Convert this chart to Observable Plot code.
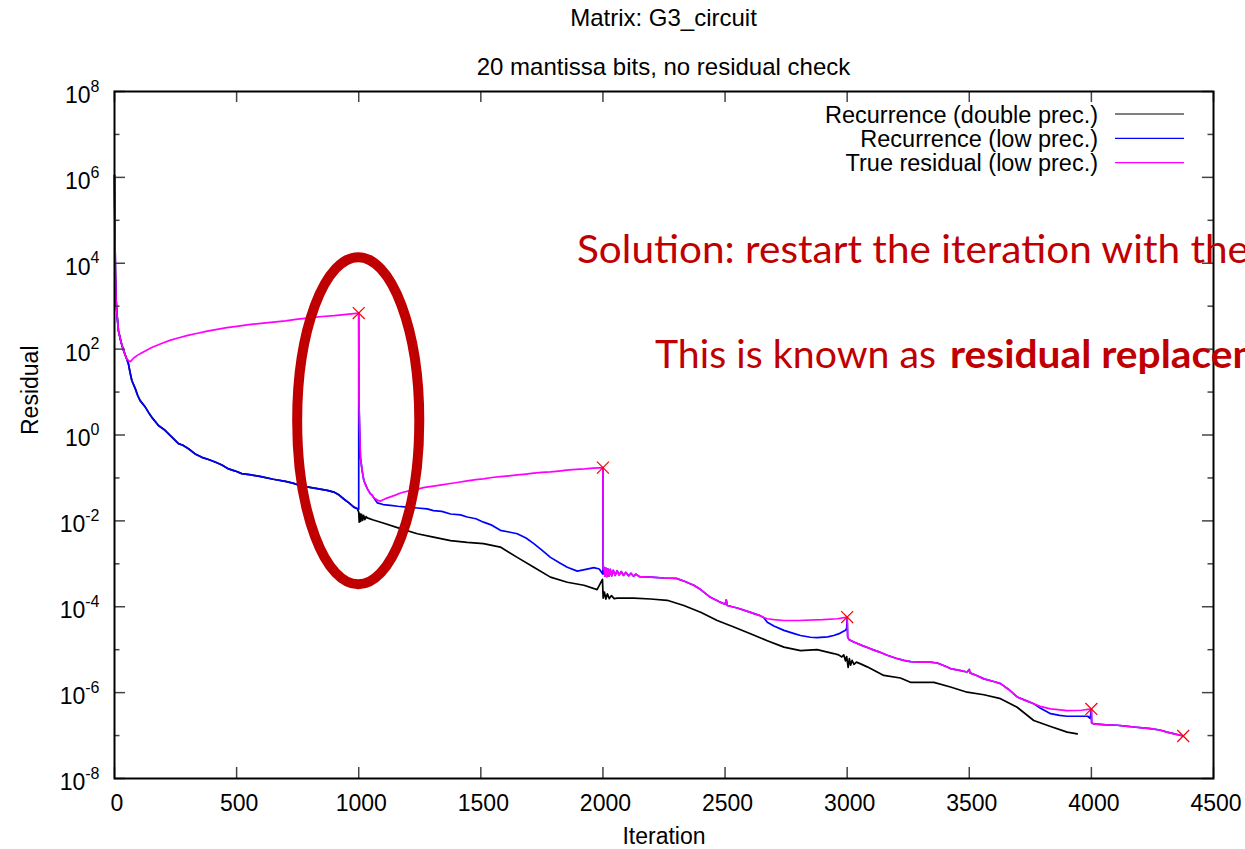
<!DOCTYPE html>
<html>
<head>
<meta charset="utf-8">
<script src="https://cdn.jsdelivr.net/npm/d3@7"></script>
<script src="https://cdn.jsdelivr.net/npm/@observablehq/plot@0.6"></script>
<style>
  html, body { margin: 0; padding: 0; background: #fff; overflow: hidden; width: 1245px; height: 849px; }
  #head { position: relative; width: 1245px; height: 80px; font-family: "Liberation Sans", Arial, sans-serif; color: #000; }
  #head div { position: absolute; left: 114px; width: 1099px; text-align: center; font-size: 24px; line-height: 1; }
  #chart svg { display: block; }
</style>
</head>
<body>
<div id="head">
  <div style="top: 6px;">Matrix: G3_circuit</div>
  <div style="top: 55px;">20 mantissa bits, no residual check</div>
</div>
<div id="chart"></div>
<script>
// Axis ticks
const xTicks = [0, 500, 1000, 1500, 2000, 2500, 3000, 3500, 4000, 4500];
const yMajorExp = [-8, -6, -4, -2, 0, 2, 4, 6, 8];
const yMinorExp = [-7, -5, -3, -1, 1, 3, 5, 7];

const seriesNames = ["Recurrence (double prec.)", "Recurrence (low prec.)", "True residual (low prec.)"];
const seriesColors = ["#000000", "#0000ff", "#ff00ff"];

// Residual histories as [iteration, log10(residual)]
// First restart cycle: both recurrences agree up to iteration 1000
const firstCycle = [[0,6.05],[1,5.3],[2,4.6],[4,3.7],[6,3.2],[10,2.83],[16,2.43],[27,2.16],[37,1.97],[50,1.77],[57,1.66],[64,1.45],[71,1.27],[85,1.08],[95,0.92],[105,0.80],[126,0.65],[140,0.52],[153,0.41],[180,0.22],[207,0.11],[235,-0.05],[262,-0.20],[280,-0.24],[303,-0.32],[330,-0.44],[358,-0.52],[385,-0.57],[412,-0.63],[440,-0.70],[467,-0.79],[495,-0.84],[521,-0.90],[560,-0.93],[600,-0.97],[650,-1.03],[700,-1.08],[730,-1.12],[762,-1.18],[800,-1.22],[830,-1.25],[871,-1.29],[898,-1.33],[920,-1.40],[939,-1.49],[960,-1.58],[980,-1.68],[995,-1.72]];

const doubleTail = [[1000,-1.80],[1002,-2.03],[1005,-1.83],[1008,-2.01],[1012,-1.85],[1016,-1.99],[1020,-1.87],[1025,-1.97],[1030,-1.90],[1035,-1.93],[1060,-1.98],[1100,-2.05],[1171,-2.18],[1240,-2.30],[1306,-2.38],[1376,-2.46],[1444,-2.50],[1511,-2.53],[1580,-2.61],[1649,-2.85],[1717,-3.08],[1785,-3.31],[1854,-3.43],[1922,-3.50],[1976,-3.60],[1998,-3.36],[2001,-3.80],[2006,-3.66],[2012,-3.82],[2018,-3.70],[2026,-3.81],[2035,-3.74],[2046,-3.81],[2058,-3.80],[2126,-3.80],[2195,-3.82],[2263,-3.85],[2331,-3.97],[2400,-4.13],[2468,-4.32],[2536,-4.47],[2604,-4.63],[2673,-4.79],[2741,-4.94],[2809,-5.02],[2877,-5.00],[2945,-5.09],[2965,-5.12],[2978,-5.17],[2986,-5.12],[2993,-5.26],[2998,-5.16],[3004,-5.41],[3009,-5.21],[3014,-5.36],[3020,-5.25],[3028,-5.34],[3038,-5.29],[3055,-5.33],[3082,-5.40],[3150,-5.60],[3218,-5.66],[3259,-5.76],[3355,-5.76],[3423,-5.87],[3491,-5.99],[3560,-6.05],[3628,-6.14],[3696,-6.34],[3764,-6.65],[3833,-6.79],[3901,-6.92],[3942,-6.96]];

// True residual until the first check at iteration 1000
const trueCycle1 = [[0,6.05],[1,5.3],[2,4.6],[4,3.7],[6,3.2],[10,2.83],[16,2.43],[27,2.16],[37,1.97],[50,1.77],[60,1.72],[65,1.71],[80,1.80],[95,1.86],[110,1.91],[130,1.97],[150,2.03],[175,2.09],[200,2.15],[230,2.21],[260,2.26],[300,2.32],[340,2.37],[380,2.42],[420,2.46],[460,2.50],[500,2.53],[550,2.57],[600,2.60],[650,2.63],[700,2.66],[750,2.70],[800,2.73],[850,2.76],[900,2.78],[950,2.81],[1000,2.84]];

// Shared by low-precision recurrence and true residual after each restart
const restart1000 = [[1001,0.80],[1003,0.30],[1005,-0.13],[1007,-0.52],[1014,-0.83],[1021,-1.06],[1035,-1.25],[1048,-1.37],[1055,-1.40],[1062,-1.47]];
const restart2000 = [[2001,-3.12],[2004,-3.08],[2008,-3.29],[2012,-3.10],[2016,-3.30],[2020,-3.12],[2025,-3.29],[2030,-3.13],[2036,-3.28],[2042,-3.15],[2050,-3.27],[2058,-3.16],[2066,-3.26],[2075,-3.18],[2084,-3.27],[2094,-3.20],[2105,-3.28],[2115,-3.22],[2125,-3.29],[2135,-3.24],[2150,-3.30],[2195,-3.31],[2250,-3.33],[2300,-3.34],[2331,-3.40],[2372,-3.50],[2400,-3.60],[2440,-3.78],[2475,-3.88],[2500,-3.94],[2505,-3.84],[2509,-3.97],[2550,-4.03],[2604,-4.13],[2640,-4.20],[2658,-4.25]];
const restart3000 = [[3002,-4.70],[3007,-4.76],[3027,-4.82],[3060,-4.90],[3096,-4.98],[3130,-5.05],[3164,-5.13],[3200,-5.20],[3232,-5.25],[3260,-5.28],[3300,-5.29],[3340,-5.29],[3369,-5.31],[3400,-5.38],[3423,-5.44],[3460,-5.48],[3491,-5.52],[3500,-5.46],[3503,-5.54],[3530,-5.60],[3560,-5.68],[3600,-5.74],[3628,-5.79],[3660,-5.92],[3696,-6.10],[3730,-6.18],[3764,-6.26]];
const restart4000 = [[4001,-6.70],[4010,-6.73],[4060,-6.75],[4106,-6.76],[4140,-6.78],[4174,-6.80],[4210,-6.82],[4242,-6.84],[4280,-6.87],[4310,-6.92],[4340,-6.96],[4376,-7.01]];

// Low-precision recurrence between restarts
const lowDrift1 = [[1076,-1.58],[1100,-1.62],[1130,-1.64],[1160,-1.66],[1198,-1.68],[1240,-1.70],[1280,-1.72],[1306,-1.76],[1340,-1.78],[1376,-1.84],[1417,-1.86],[1444,-1.91],[1480,-1.95],[1511,-2.03],[1545,-2.10],[1580,-2.22],[1615,-2.26],[1649,-2.30],[1685,-2.40],[1717,-2.53],[1750,-2.68],[1785,-2.85],[1820,-2.97],[1854,-3.08],[1895,-3.17],[1930,-3.13],[1963,-3.09],[1985,-3.12],[1997,-3.22],[2000,-3.24]];
const lowDrift2 = [[2673,-4.36],[2700,-4.45],[2741,-4.55],[2780,-4.62],[2809,-4.67],[2850,-4.71],[2877,-4.72],[2920,-4.70],[2945,-4.67],[2970,-4.62],[2993,-4.55],[2998,-4.50]];
const lowDrift3 = [[3790,-6.36],[3833,-6.49],[3870,-6.53],[3901,-6.55],[3950,-6.55],[3985,-6.55],[3995,-6.60]];

// True residual between restarts
const trueDrift1 = [[1070,-1.49],[1080,-1.53],[1089,-1.54],[1100,-1.51],[1115,-1.47],[1130,-1.44],[1150,-1.40],[1171,-1.35],[1205,-1.30],[1240,-1.26],[1270,-1.22],[1306,-1.19],[1340,-1.16],[1375,-1.13],[1410,-1.10],[1444,-1.07],[1480,-1.04],[1510,-1.02],[1545,-0.99],[1580,-0.97],[1615,-0.95],[1650,-0.93],[1685,-0.91],[1716,-0.89],[1750,-0.87],[1785,-0.86],[1820,-0.84],[1850,-0.82],[1890,-0.80],[1925,-0.79],[1960,-0.77]];
const trueDrift2 = [[2673,-4.28],[2700,-4.30],[2741,-4.32],[2800,-4.32],[2900,-4.30],[2960,-4.28]];
const trueDrift3 = [[3790,-6.32],[3833,-6.38],[3901,-6.42],[3960,-6.41]];

// Explicit residual checks (marked with crosses)
const checkIter = [1000, 2000, 3000, 4000, 4376];
const checkExp = [2.84, -0.76, -4.24, -6.38, -7.01];

// Highlight ring around the first check: iteration span and residual span (log10)
const ringIter = [750, 1250];
const ringExp = [-3.49, 4.13];

const toPts = (pairs) => pairs.map(([it, e]) => ({iteration: it, residual: 10 ** e}));
const chk = (k) => [[checkIter[k], checkExp[k]]];

const doublePts = toPts([...firstCycle, ...doubleTail]);
const lowPts = toPts([
  ...firstCycle, [1000, -1.73], ...chk(0), ...restart1000, ...lowDrift1,
  ...chk(1), ...restart2000, ...lowDrift2,
  ...chk(2), ...restart3000, ...lowDrift3,
  ...chk(3), ...restart4000
]);
const truePts = toPts([
  ...trueCycle1, ...restart1000, ...trueDrift1,
  ...chk(1), ...restart2000, ...trueDrift2,
  ...chk(2), ...restart3000, ...trueDrift3,
  ...chk(3), ...restart4000
]);
const checkPts = toPts(checkIter.map((it, k) => [it, checkExp[k]]));

const W = 1245, H = 769;
const mT = 11, mR = 32, mB = 71, mL = 114;
const plotW = W - mL - mR, plotH = H - mT - mB;
const tickColor = "#444";
const lineW = 1.7;

const plot = Plot.plot({
  width: W, height: H,
  marginTop: mT, marginRight: mR, marginBottom: mB, marginLeft: mL,
  style: {fontFamily: "'Liberation Sans', Arial, sans-serif", fontSize: "23px", color: "#000", background: "#fff", overflow: "visible"},
  x: {domain: [0, 4500], label: null},
  y: {type: "log", domain: [1e-8, 1e8], label: null},
  marks: [
    Plot.line(doublePts, {x: "iteration", y: "residual", stroke: seriesColors[0], strokeWidth: lineW}),
    Plot.line(lowPts, {x: "iteration", y: "residual", stroke: seriesColors[1], strokeWidth: lineW}),
    Plot.line(truePts, {x: "iteration", y: "residual", stroke: seriesColors[2], strokeWidth: lineW}),
    Plot.dot(checkPts, {x: "iteration", y: "residual", symbol: "times", r: 5.5, stroke: "#ff0000", strokeWidth: 1.2}),
    // inward ticks, mirrored on all four sides
    Plot.ruleX(xTicks, {x: d => d, stroke: tickColor, strokeWidth: 1.5, insetTop: plotH - 11}),
    Plot.ruleX(xTicks, {x: d => d, stroke: tickColor, strokeWidth: 1.5, insetBottom: plotH - 11}),
    Plot.ruleY(yMajorExp, {y: d => 10 ** d, stroke: tickColor, strokeWidth: 1.5, insetRight: plotW - 11}),
    Plot.ruleY(yMajorExp, {y: d => 10 ** d, stroke: tickColor, strokeWidth: 1.5, insetLeft: plotW - 11}),
    Plot.ruleY(yMinorExp, {y: d => 10 ** d, stroke: tickColor, strokeWidth: 1.5, insetRight: plotW - 5.5}),
    Plot.ruleY(yMinorExp, {y: d => 10 ** d, stroke: tickColor, strokeWidth: 1.5, insetLeft: plotW - 5.5}),
    Plot.frame({stroke: "#000", strokeWidth: 2}),
    Plot.axisX(xTicks, {tickSize: 0, tickPadding: 16, dx: 2.5, fontSize: 23, label: null, tickFormat: d => String(d)}),
    Plot.axisY(yMajorExp.map(d => 10 ** d), {tickSize: 0, tickPadding: 15, dy: 4, fontSize: 23, label: null,
      tickFormat: v => "10^" + Math.round(Math.log10(v))}),
    Plot.text(["Iteration"], {text: d => d, frameAnchor: "bottom", dy: 65, fontSize: 23}),
    Plot.text(["Residual"], {text: d => d, frameAnchor: "left", dx: -84, rotate: -90, fontSize: 23})
  ]
});

document.getElementById("chart").appendChild(plot);
const svg = d3.select(plot);

// Superscript exponents on the y tick labels
svg.selectAll('g[aria-label="y-axis tick label"] text').each(function() {
  const t = d3.select(this);
  const [base, exp] = t.text().split("^");
  t.text(null);
  t.append("tspan").text(base);
  t.append("tspan").attr("font-size", 16).attr("dy", "-0.7em").text(exp);
});

// Legend
const legend = svg.append("g").attr("font-family", "'Liberation Sans', Arial, sans-serif").attr("font-size", 23.5).attr("text-anchor", "end");
seriesNames.forEach((name, i) => {
  const y = mT + 23 + i * 24.3;
  legend.append("text").attr("x", 1098).attr("y", y).attr("dy", "0.37em").attr("fill", "#000").text(name);
  legend.append("line").attr("x1", 1115).attr("x2", 1184).attr("y1", y).attr("y2", y)
    .attr("stroke", seriesColors[i]).attr("stroke-width", 1.2);
});

// Highlight ring and annotation
const sx = plot.scale("x"), sy = plot.scale("y");
const yTop = sy.apply(10 ** ringExp[1]), yBot = sy.apply(10 ** ringExp[0]);
const xL = sx.apply(ringIter[0]), xR = sx.apply(ringIter[1]);
svg.append("ellipse")
  .attr("cx", (xL + xR) / 2).attr("cy", (yTop + yBot) / 2)
  .attr("rx", (xR - xL) / 2).attr("ry", (yBot - yTop) / 2)
  .attr("fill", "none").attr("stroke", "#c00000").attr("stroke-width", 10);

const note = svg.append("g").attr("font-family", "Lato, 'Open Sans', sans-serif").attr("fill", "#c00000")
  .attr("font-size", 39).attr("text-anchor", "start");
note.append("text").attr("x", 577).attr("y", 183)
  .attr("textLength", 672).attr("lengthAdjust", "spacingAndGlyphs")
  .text("Solution: restart the iteration with the");
note.append("text").attr("x", 655).attr("y", 288)
  .attr("textLength", 281).attr("lengthAdjust", "spacingAndGlyphs")
  .text("This is known as");
note.append("text").attr("x", 950).attr("y", 288).attr("font-weight", "bold")
  .attr("textLength", 376).attr("lengthAdjust", "spacingAndGlyphs")
  .text("residual replacement");
</script>
</body>
</html>
